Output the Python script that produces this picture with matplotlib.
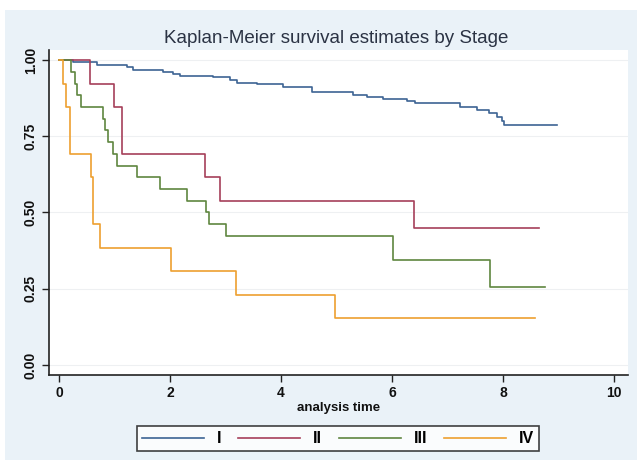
import matplotlib
matplotlib.use("Agg")
import matplotlib.pyplot as plt
from matplotlib.patches import Rectangle

# ---- data ----
stage_labels = ["I", "II", "III", "IV"]

t_I = [0, 0.25, 0.68, 1.22, 1.34, 1.88, 2.06, 2.18, 2.78, 3.08, 3.20, 3.56, 4.04,
       4.55, 5.30, 5.54, 5.84, 6.26, 6.41, 7.23, 7.53, 7.74, 7.89, 7.98, 8.01, 8.97]
s_I = [1.0, 0.994, 0.984, 0.978, 0.969, 0.962, 0.954, 0.948, 0.943, 0.934, 0.926, 0.921, 0.912,
       0.896, 0.887, 0.880, 0.872, 0.866, 0.858, 0.845, 0.836, 0.825, 0.812, 0.801, 0.787, 0.787]

t_II = [0, 0.55, 0.99, 1.13, 2.63, 2.90, 6.40, 8.65]
s_II = [1.0, 0.923, 0.846, 0.692, 0.615, 0.538, 0.449, 0.449]

t_III = [0, 0.21, 0.29, 0.33, 0.39, 0.80, 0.83, 0.89, 0.98, 1.04, 1.40, 1.82, 2.31,
         2.65, 2.71, 3.00, 6.01, 7.77, 8.76]
s_III = [1.0, 0.962, 0.923, 0.885, 0.846, 0.808, 0.769, 0.731, 0.692, 0.654, 0.615, 0.577, 0.538,
         0.500, 0.462, 0.423, 0.343, 0.257, 0.257]

t_IV = [0, 0.08, 0.13, 0.20, 0.57, 0.62, 0.73, 2.01, 3.19, 4.97, 8.58]
s_IV = [1.0, 0.923, 0.846, 0.692, 0.615, 0.462, 0.385, 0.308, 0.231, 0.154, 0.154]

x_ticks = [0, 2, 4, 6, 8, 10]
y_ticks = [0.0, 0.25, 0.5, 0.75, 1.0]
y_ticklabels = ["0.00", "0.25", "0.50", "0.75", "1.00"]

colors = ["#3d6494", "#a63f5a", "#5f8640", "#eda030"]

plt.rcParams['font.family'] = ['Liberation Sans', 'DejaVu Sans']

fig = plt.figure(figsize=(6.37, 4.66), dpi=100)
fig.patch.set_facecolor("white")
fig.patches.append(Rectangle((5/637, 6/466), 632/637, 450/466, transform=fig.transFigure,
                             facecolor="#eaf2f8", edgecolor="none", zorder=-10))

ax = fig.add_axes([49/637, 91/466, (628-49)/637, (375-50)/466])
ax.set_facecolor("white")

series = [(t_I, s_I), (t_II, s_II), (t_III, s_III), (t_IV, s_IV)]
for (t, s), c, lab in zip(series, colors, stage_labels):
    ax.step(t, s, where="post", color=c, lw=1.2, label=lab)

ax.set_xlim(-0.18, 10.25)
ax.set_ylim(-0.033, 1.033)
ax.set_xticks(x_ticks)
ax.set_yticks(y_ticks)
ax.set_yticklabels(y_ticklabels, rotation=90, va="center")
ax.tick_params(axis="both", direction="out", length=5, width=1.0, color="#222222",
               labelsize=10, labelcolor="#111111", pad=3)
for lbl in ax.get_xticklabels() + ax.get_yticklabels():
    lbl.set_fontweight("bold")
ax.grid(axis="y", color="#eef0f2", lw=0.8)
ax.set_axisbelow(True)
for sp in ["top", "right"]:
    ax.spines[sp].set_visible(False)
for sp in ["left", "bottom"]:
    ax.spines[sp].set_color("#222222")
    ax.spines[sp].set_linewidth(1.2)

ax.set_xlabel("analysis time", fontsize=9.5, fontweight="bold", color="#111111", labelpad=1)

fig.text(0.527, 0.918, "Kaplan-Meier survival estimates by Stage", ha="center", va="center",
         fontsize=13.5, color="#2b3344")

leg = fig.legend(*ax.get_legend_handles_labels(), loc="lower left",
                 bbox_to_anchor=(137/637, 15/466, (539-137)/637, 28/466),
                 bbox_transform=fig.transFigure, mode="expand", ncol=4,
                 handlelength=3.9, fontsize=11.5, frameon=True, fancybox=False,
                 borderaxespad=0, borderpad=0.3, handletextpad=0.8)
leg.get_frame().set_edgecolor("#111111")
leg.get_frame().set_linewidth(1.2)
leg.get_frame().set_facecolor("white")
for txt in leg.get_texts():
    txt.set_fontweight("bold")

fig.savefig("out.png", dpi=100, facecolor=fig.get_facecolor())
